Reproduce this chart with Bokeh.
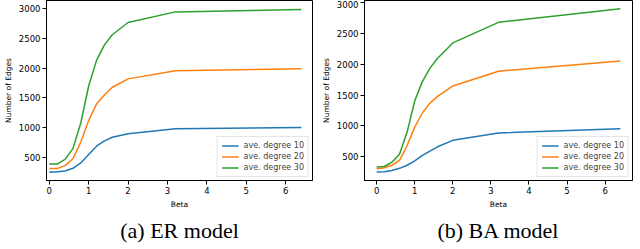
from bokeh.plotting import figure
from bokeh.layouts import row
from bokeh.models import Title, Legend, LegendItem, FixedTicker, Range1d
from bokeh.embed import file_html
from bokeh.resources import INLINE

beta = [0, 0.2, 0.4, 0.6, 0.8, 1.0, 1.2, 1.4, 1.6, 2.0, 3.2, 6.4]
er_10 = [255, 260, 275, 320, 410, 550, 690, 780, 840, 900, 985, 1005]
er_20 = [315, 315, 365, 480, 760, 1120, 1400, 1550, 1680, 1820, 1955, 1992]
er_30 = [390, 390, 470, 650, 1080, 1700, 2130, 2390, 2560, 2766, 2944, 2983]
ba_10 = [250, 255, 275, 310, 360, 430, 520, 590, 660, 765, 885, 955]
ba_20 = [305, 320, 360, 440, 680, 980, 1210, 1370, 1480, 1650, 1890, 2055]
ba_30 = [330, 340, 410, 540, 900, 1410, 1720, 1940, 2100, 2350, 2685, 2905]
series_labels = ["ave. degree 10", "ave. degree 20", "ave. degree 30"]
colors = ["#1f77b4", "#ff7f0e", "#2ca02c"]
x_ticks = [0, 1, 2, 3, 4, 5, 6]
y_ticks = [500, 1000, 1500, 2000, 2500, 3000]
captions = ["(a) ER model", "(b) BA model"]

FONT = "DejaVu Sans"


def make_panel(ys, caption, xr, yr, border_left, frame_w, border_right):
    p = figure(output_backend="svg", toolbar_location=None,
               frame_width=frame_w, frame_height=180,
               x_range=Range1d(*xr), y_range=Range1d(*yr),
               min_border_left=border_left, min_border_right=border_right,
               min_border_top=0, min_border_bottom=0)
    p.background_fill_color = "white"
    p.border_fill_color = "white"
    p.outline_line_color = "black"
    p.outline_line_width = 1
    p.outline_line_alpha = 1
    p.xgrid.visible = False
    p.ygrid.visible = False
    items = []
    for y, c, lab in zip(ys, colors, series_labels):
        r = p.line(beta, y, line_color=c, line_width=1.5)
        items.append(LegendItem(label=lab, renderers=[r]))
    for ax in (p.xaxis[0], p.yaxis[0]):
        ax.axis_line_color = "black"
        ax.major_tick_line_color = "black"
        ax.minor_tick_line_color = None
        ax.major_tick_out = 4
        ax.major_tick_in = 0
        ax.major_label_text_font = FONT
        ax.major_label_text_font_size = "8.5px"
        ax.major_label_text_color = "black"
        ax.axis_label_text_font = FONT
        ax.axis_label_text_font_size = "7.5px"
        ax.axis_label_text_font_style = "normal"
        ax.axis_label_text_color = "black"
        ax.major_label_standoff = 2
        ax.axis_label_standoff = 3
    p.xaxis.ticker = FixedTicker(ticks=x_ticks)
    p.yaxis.ticker = FixedTicker(ticks=y_ticks)
    p.xaxis.axis_label = "Beta"
    p.yaxis.axis_label = "Number of Edges"
    leg = Legend(items=items, location="bottom_right")
    leg.label_text_font = FONT
    leg.label_text_font_size = "8px"
    leg.label_height = 9
    leg.glyph_height = 9
    leg.glyph_width = 17
    leg.label_standoff = 5
    leg.spacing = 2
    leg.padding = 4
    leg.margin = 3
    leg.border_line_color = "#cccccc"
    leg.border_line_width = 1
    leg.background_fill_alpha = 0.8
    p.add_layout(leg, "center")
    t = Title(text=caption, align="center", text_font="Liberation Serif",
              text_font_size="22px", text_font_style="normal",
              text_color="black", standoff=9)
    p.add_layout(t, "below")
    return p


p1 = make_panel([er_10, er_20, er_30], captions[0], (-0.07, 6.68), (115, 3135), 40, 266, 6)
p2 = make_panel([ba_10, ba_20, ba_30], captions[1], (-0.32, 6.72), (112, 3040), 42, 268, 2)

layout = row(p1, p2)
open("out.html", "w").write(file_html(layout, INLINE))
